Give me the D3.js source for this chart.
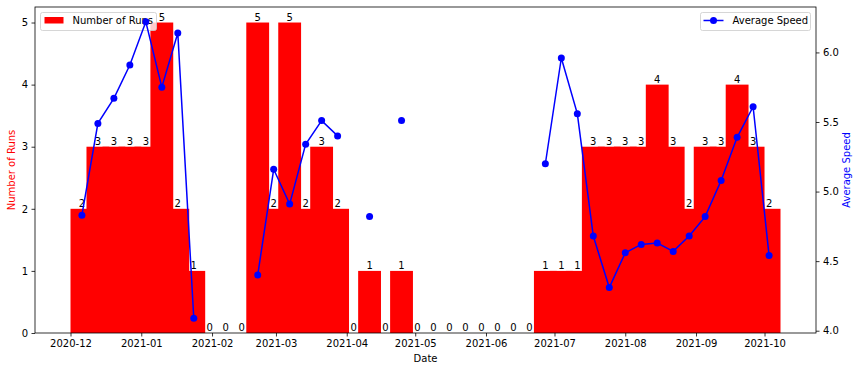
<!DOCTYPE html>
<html>
<head>
<meta charset="utf-8">
<script src="https://cdn.jsdelivr.net/npm/d3@7"></script>
<style>
    body { margin: 0; background: #fff; }
    text { font-family: "DejaVu Sans", sans-serif; }
</style>
</head>
<body>
<svg id="chart" width="859" height="371"></svg>
<script>
let weeks = [
    "2020-12-06", "2020-12-13", "2020-12-20", "2020-12-27",
    "2021-01-03", "2021-01-10", "2021-01-17", "2021-01-24", "2021-01-31",
    "2021-02-07", "2021-02-14", "2021-02-21", "2021-02-28",
    "2021-03-07", "2021-03-14", "2021-03-21", "2021-03-28",
    "2021-04-04", "2021-04-11", "2021-04-18", "2021-04-25",
    "2021-05-02", "2021-05-09", "2021-05-16", "2021-05-23", "2021-05-30",
    "2021-06-06", "2021-06-13", "2021-06-20", "2021-06-27",
    "2021-07-04", "2021-07-11", "2021-07-18", "2021-07-25",
    "2021-08-01", "2021-08-08", "2021-08-15", "2021-08-22", "2021-08-29",
    "2021-09-05", "2021-09-12", "2021-09-19", "2021-09-26",
    "2021-10-03"
];

let runs = [
    2, 3, 3, 3,
    3, 5, 2, 1, 0,
    0, 0, 5, 2,
    5, 2, 3, 2,
    0, 1, 0, 1,
    0, 0, 0, 0, 0,
    0, 0, 0, 1,
    1, 1, 3, 3,
    3, 3, 4, 3, 2,
    3, 3, 4, 3,
    2
];

let speeds = [
    4.83, 5.49, 5.67, 5.91,
    6.22, 5.75, 6.14, 4.09, null,
    null, null, 4.40, 5.16,
    4.91, 5.34, 5.51, 5.40,
    null, 4.82, null, 5.51,
    null, null, null, null, null,
    null, null, null, 5.20,
    5.96, 5.56, 4.68, 4.31,
    4.56, 4.62, 4.63, 4.57, 4.68,
    4.82, 5.08, 5.39, 5.61,
    4.54
];

let xTickLabels = ["2020-12", "2021-01", "2021-02", "2021-03", "2021-04", "2021-05",
		   "2021-06", "2021-07", "2021-08", "2021-09", "2021-10"];
let runTicks = [0, 1, 2, 3, 4, 5];
let speedTicks = [4.0, 4.5, 5.0, 5.5, 6.0];

let parseDay = d3.utcParse("%Y-%m-%d"),
    parseMonth = d3.utcParse("%Y-%m");

let data = weeks.map(function(w, i) {
    return { date: parseDay(w), runs: runs[i], speed: speeds[i] };
});

let margin = { left: 35, right: 816, top: 7, bottom: 333 };
let svg = d3.select("#chart");

// half bar width in days
let half = 5, day = 864e5;
let lo = +data[0].date - half * day,
    hi = +data[data.length - 1].date + half * day,
    pad = (hi - lo) * 0.05;

let x = d3.scaleUtc()
    .domain([new Date(lo - pad), new Date(hi + pad)])
    .range([margin.left, margin.right]);

let y = d3.scaleLinear()
    .domain([0, d3.max(runs) * 1.05])
    .range([margin.bottom, margin.top]);

let sMin = d3.min(speeds.filter((d) => d != null)),
    sMax = d3.max(speeds),
    sPad = (sMax - sMin) * 0.05;
let y2 = d3.scaleLinear()
    .domain([sMin - sPad, sMax + sPad])
    .range([margin.bottom, margin.top]);

// bars, drawn in order so later weeks overlap earlier ones
svg.append("g")
    .selectAll("rect")
    .data(data)
    .enter().append("rect")
    .attr("x", (d) => x(new Date(+d.date - half * day)))
    .attr("width", (d) => x(new Date(+d.date + half * day)) - x(new Date(+d.date - half * day)))
    .attr("y", (d) => y(d.runs))
    .attr("height", (d) => y(0) - y(d.runs))
    .attr("fill", "#ff0000");

svg.append("g")
    .selectAll("text")
    .data(data)
    .enter().append("text")
    .attr("x", (d) => x(d.date))
    .attr("y", (d) => y(d.runs) - 2)
    .attr("text-anchor", "middle")
    .attr("font-size", 10)
    .attr("fill", "#000")
    .text((d) => d.runs);

// axes
let xAxis = d3.axisBottom(x)
    .tickValues(xTickLabels.map((t) => parseMonth(t)))
    .tickFormat(d3.utcFormat("%Y-%m"))
    .tickSize(3.5)
    .tickPadding(3.5);

let yAxis = d3.axisLeft(y)
    .tickValues(runTicks)
    .tickFormat(d3.format("d"))
    .tickSize(3.5)
    .tickPadding(3.5);

let y2Axis = d3.axisRight(y2)
    .tickValues(speedTicks)
    .tickFormat(d3.format(".1f"))
    .tickSize(3.5)
    .tickPadding(3.5);

function styleAxis(g) {
    g.select(".domain").remove();
    g.selectAll("line").attr("stroke", "#000").attr("stroke-width", 0.8);
    g.selectAll("text").attr("font-size", 10).attr("fill", "#000")
	.style("font-family", "DejaVu Sans, sans-serif");
}

svg.append("g")
    .attr("transform", "translate(0," + margin.bottom + ")")
    .call(xAxis).call(styleAxis);

svg.append("g")
    .attr("transform", "translate(" + margin.left + ",0)")
    .call(yAxis).call(styleAxis);

svg.append("g")
    .attr("transform", "translate(" + margin.right + ",0)")
    .call(y2Axis).call(styleAxis);

svg.append("rect")
    .attr("x", margin.left)
    .attr("y", margin.top)
    .attr("width", margin.right - margin.left)
    .attr("height", margin.bottom - margin.top)
    .attr("fill", "none")
    .attr("stroke", "#000")
    .attr("stroke-width", 0.8);

// axis labels
svg.append("text")
    .attr("x", (margin.left + margin.right) / 2)
    .attr("y", 362)
    .attr("text-anchor", "middle")
    .attr("font-size", 10)
    .text("Date");

svg.append("text")
    .attr("transform", "translate(15," + (margin.top + margin.bottom) / 2 + ") rotate(-90)")
    .attr("text-anchor", "middle")
    .attr("font-size", 10)
    .attr("fill", "#ff0000")
    .text("Number of Runs");

svg.append("text")
    .attr("transform", "translate(850," + (margin.top + margin.bottom) / 2 + ") rotate(-90)")
    .attr("text-anchor", "middle")
    .attr("font-size", 10)
    .attr("fill", "#0000ff")
    .text("Average Speed");

// left legend
let leg1 = svg.append("g").attr("transform", "translate(40.5,12.5)");
leg1.append("rect")
    .attr("width", 116).attr("height", 18).attr("rx", 2)
    .attr("fill", "#fff").attr("fill-opacity", 0.8)
    .attr("stroke", "#ccc").attr("stroke-width", 0.8);
leg1.append("rect")
    .attr("x", 4).attr("y", 4.5).attr("width", 19).attr("height", 6.5)
    .attr("fill", "#ff0000");
leg1.append("text")
    .attr("x", 32).attr("y", 11.5)
    .attr("font-size", 10)
    .text("Number of Runs");

// speed line
let lineFunc = d3.line()
    .defined((d) => d.speed != null)
    .x((d) => x(d.date))
    .y((d) => y2(d.speed));

svg.append("path")
    .datum(data)
    .attr("d", lineFunc)
    .attr("fill", "none")
    .attr("stroke", "#0000ff")
    .attr("stroke-width", 1.5);

svg.append("g")
    .selectAll("circle")
    .data(data.filter((d) => d.speed != null))
    .enter().append("circle")
    .attr("cx", (d) => x(d.date))
    .attr("cy", (d) => y2(d.speed))
    .attr("r", 3.5)
    .attr("fill", "#0000ff");

// right legend
let leg2 = svg.append("g").attr("transform", "translate(700.5,12.5)");
leg2.append("rect")
    .attr("width", 110).attr("height", 18).attr("rx", 2)
    .attr("fill", "#fff").attr("fill-opacity", 0.8)
    .attr("stroke", "#ccc").attr("stroke-width", 0.8);
leg2.append("line")
    .attr("x1", 3).attr("x2", 23).attr("y1", 8).attr("y2", 8)
    .attr("stroke", "#0000ff").attr("stroke-width", 1.5);
leg2.append("circle")
    .attr("cx", 13).attr("cy", 8).attr("r", 3.5)
    .attr("fill", "#0000ff");
leg2.append("text")
    .attr("x", 32).attr("y", 11.5)
    .attr("font-size", 10)
    .text("Average Speed");
</script>
</body>
</html>
